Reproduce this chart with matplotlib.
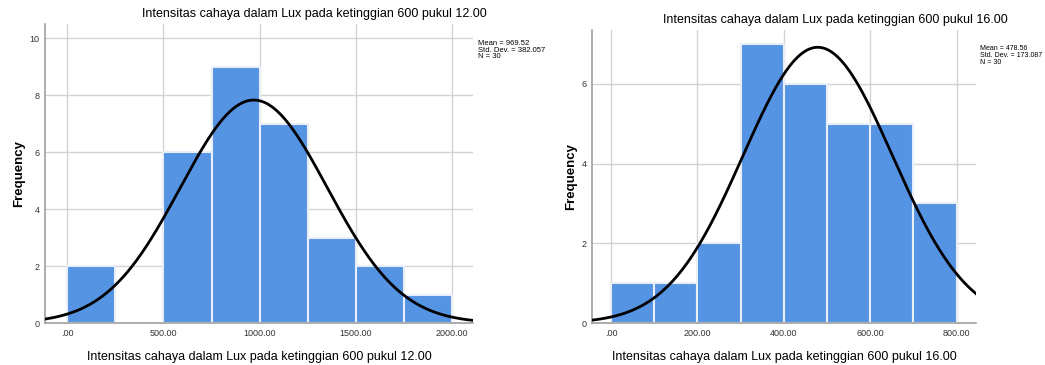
import matplotlib
matplotlib.use("Agg")
import matplotlib.pyplot as plt
import numpy as np

plt.rcParams["font.family"] = ["Liberation Sans", "DejaVu Sans"]

# Data
label_12 = "Intensitas cahaya dalam Lux pada ketinggian 600 pukul 12.00"
edges_12 = [0, 250, 500, 750, 1000, 1250, 1500, 1750, 2000]
counts_12 = [2, 0, 6, 9, 7, 3, 2, 1]
mean_12, std_12, n_12 = 969.52, 382.057, 30

label_16 = "Intensitas cahaya dalam Lux pada ketinggian 600 pukul 16.00"
edges_16 = [0, 100, 200, 300, 400, 500, 600, 700, 800]
counts_16 = [1, 1, 2, 7, 6, 5, 5, 3]
mean_16, std_16, n_16 = 478.56, 173.087, 30

bar_color = "#5593e3"
grid_color = "#d3d3d3"


def draw_hist(ax, edges, counts, mean, std, n, xlim, ylim, xticks, yticks):
    edges = np.array(edges)
    widths = np.diff(edges)
    ax.bar(edges[:-1], counts, width=widths, align="edge", color=bar_color,
           edgecolor="#e8eefa", linewidth=1.5, zorder=2)
    x = np.linspace(xlim[0], xlim[1], 400)
    bw = widths[0]
    y = n * bw / (std * np.sqrt(2 * np.pi)) * np.exp(-0.5 * ((x - mean) / std) ** 2)
    ax.plot(x, y, color="black", lw=2, zorder=3)
    ax.set_xlim(xlim)
    ax.set_ylim(ylim)
    ax.set_xticks(xticks)
    ax.set_xticklabels([".00" if t == 0 else "%.2f" % t for t in xticks])
    ax.set_yticks(yticks)
    ax.grid(True, color=grid_color, lw=1, zorder=0)
    ax.set_axisbelow(True)
    for s in ["top", "right"]:
        ax.spines[s].set_visible(False)
    for s in ["left", "bottom"]:
        ax.spines[s].set_color("#a0a0a0")
        ax.spines[s].set_linewidth(1.2)
    ax.tick_params(length=0, labelsize=6.5, colors="#333333", pad=4)
    ax.set_ylabel("Frequency", fontsize=9.5, fontweight="bold", labelpad=3)


fig = plt.figure(figsize=(10.45, 3.65), dpi=100)
ax1 = fig.add_axes([0.043, 0.115, 0.41, 0.819])
ax2 = fig.add_axes([0.5665, 0.115, 0.3675, 0.803])

draw_hist(ax1, edges_12, counts_12, mean_12, std_12, n_12,
          (-115, 2110), (0, 10.5), [0, 500, 1000, 1500, 2000], [0, 2, 4, 6, 8, 10])
draw_hist(ax2, edges_16, counts_16, mean_16, std_16, n_16,
          (-44, 845), (0, 7.35), [0, 200, 400, 600, 800], [0, 2, 4, 6])

ax1.set_xlabel(label_12, fontsize=9, labelpad=10)
ax2.set_xlabel(label_16, fontsize=9, labelpad=10)

fig.text(314 / 1045, 1 - 14 / 365, label_12, ha="center", va="center", fontsize=9)
fig.text(835 / 1045, 1 - 20 / 365, label_16, ha="center", va="center", fontsize=9)

fig.text(478 / 1045, 1 - 40 / 365,
         "Mean = %.2f\nStd. Dev. = %.3f\nN = %d" % (mean_12, std_12, n_12),
         ha="left", va="top", fontsize=5.5, linespacing=0.95)
fig.text(980 / 1045, 1 - 45 / 365,
         "Mean = %.2f\nStd. Dev. = %.3f\nN = %d" % (mean_16, std_16, n_16),
         ha="left", va="top", fontsize=5.0, linespacing=1.0)

fig.savefig("out.png", dpi=100)
